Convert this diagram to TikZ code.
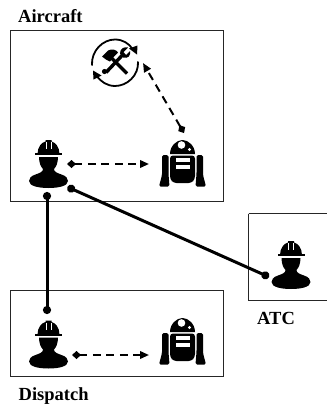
\documentclass[tikz,border=0pt]{standalone}
\usepackage{fontspec}
\setmainfont{Liberation Serif}
\usetikzlibrary{arrows.meta}
\tikzset{
  frame/.style={draw=black!85,line width=0.8pt},
  caption/.style={font=\fontsize{18.5}{20}\selectfont\bfseries,inner sep=0pt,text=black},
  anchorbox/.style={inner sep=0pt,minimum width=2pt,minimum height=2pt},
  solidlink/.style={line width=3pt,{Circle[length=8pt,width=8pt]}-{Circle[length=8pt,width=8pt]},black},
  dashlink/.style={line width=2pt,dash pattern=on 8pt off 5.5pt,{Diamond[length=9pt,width=8pt]}-{Triangle[length=9pt,width=7.5pt]},black},
  worker/.pic={
    % helmet
    \fill[black] (-11,-10) .. controls (-11,-17) and (-7,-21.5) .. (-3,-22.5)
      -- (-3,-24) -- (3,-24) -- (3,-22.5) .. controls (7,-21.5) and (11,-17) .. (11,-10) -- cycle;
    \fill[black] (-13.5,-11) rectangle (13.5,-8.8);
    \draw[white,line width=.6pt] (-2.6,-22) -- (-2.6,-15) (2.6,-22) -- (2.6,-15);
    % face
    \fill[black] (-9.5,-7) -- (9.5,-7) .. controls (9.5,-1) and (7.5,3) .. (5.5,5)
      .. controls (5.5,8) and (9,9) .. (13,10.5) .. controls (18,12) and (19.5,15) .. (19.5,17)
      .. controls (19.5,22) and (10,24) .. (0,24) .. controls (-10,24) and (-19.5,22) .. (-19.5,17)
      .. controls (-19.5,15) and (-18,12) .. (-13,10.5) .. controls (-9,9) and (-5.5,8) .. (-5.5,5)
      .. controls (-7.5,3) and (-9.5,-1) .. (-9.5,-7) -- cycle;
  },
  robot/.pic={
    % dome
    \fill[black] (-12.5,-10) .. controls (-12.5,-18) and (-6,-24) .. (0,-24) .. controls (6,-24) and (12.5,-18) .. (12.5,-10) -- cycle;
    \fill[white] (-1,-19) circle (3.8);
    \fill[white] (7,-14.5) circle (1.7);
    % body
    \fill[black,rounded corners=3pt] (-12.5,-8.5) -- (12.5,-8.5) -- (12.5,15) -- (9,19) -- (-9,19) -- (-12.5,15) -- cycle;
    \fill[white] (-7,-6) rectangle (7,-2.5);
    \fill[white] (-7,1) rectangle (7,5);
    % arms
    \fill[black,rounded corners=1.5pt] (-20.5,-9) -- (-14,-9) -- (-14,10) -- (-13,22.5) -- (-23.5,22.5) -- (-20.5,11) -- cycle;
    \fill[black,rounded corners=1.5pt] (20.5,-9) -- (14,-9) -- (14,10) -- (13,22.5) -- (23.5,22.5) -- (20.5,11) -- cycle;
  },
  tools/.pic={
    % rotating arrows
    \draw[black,line width=1.8pt] (-23,3) .. controls (-24,-12) and (-12,-23) .. (0,-23) .. controls (8,-23) and (14,-19) .. (18,-13);
    \fill[black] (22,-8) -- (14,-14) -- (22.5,-17) -- cycle;
    \draw[black,line width=1.8pt] (23,-1) .. controls (24,13) and (12,23.5) .. (0,23.5) .. controls (-8,23.5) and (-14,19) .. (-18,14);
    \fill[black] (-22,8) -- (-13.5,13) -- (-21.5,17) -- cycle;
    % hammer
    \draw[black,line width=3.4pt] (-4,-5) -- (12,11);
    \fill[black] (-13,-6) -- (-7,-12) .. controls (-3,-14) and (1,-13) .. (3,-10) -- (-1,-6) -- (-5,-1) -- (-9,-3) -- cycle;
    % wrench
    \draw[black,line width=3.4pt] (-9,10) -- (7,-7);
    \fill[black] (-10.5,9) circle (2.6);
    \fill[black] (5,-9) .. controls (5,-14) and (9,-16) .. (13,-15) -- (8.5,-10.5) -- (11,-7.5) -- (15,-11.5) .. controls (16,-7) and (13,-3.5) .. (8,-5) -- cycle;
  }
}
\begin{document}
\begin{tikzpicture}[x=1pt,y=-1pt]
\useasboundingbox (0,0) rectangle (327,405);
\fill[white] (0,0) rectangle (327,405);
% frames
\draw[frame] (10.5,30.5) rectangle (223,201);
\draw[frame] (10.5,290.5) rectangle (223,376.5);
\draw[frame] (248.5,213.5) -- (327.5,213.5) (248.5,213.5) -- (248.5,300) -- (327.5,300);
% captions
\node[caption,anchor=base west] (aircraftlabel) at (18,22) {Aircraft};
\node[caption,anchor=base west] (dispatchlabel) at (18.5,400) {Dispatch};
\node[caption,anchor=base west] (atclabel) at (257,324) {ATC};
% icons
\pic at (48.5,164) {worker};
\pic at (48.5,344.5) {worker};
\pic at (291,265) {worker};
\pic at (182.5,164) {robot};
\pic at (182.5,342) {robot};
\pic at (115,62.5) {tools};
% connector ends
\node[anchorbox] (a) at (47,192) {};
\node[anchorbox] (b) at (47,314) {};
\node[anchorbox] (c) at (67.5,187) {};
\node[anchorbox] (d) at (269,277) {};
\node[anchorbox] (e) at (67,164) {};
\node[anchorbox] (f) at (149,164) {};
\node[anchorbox] (g) at (184,133) {};
\node[anchorbox] (h) at (143,63) {};
\node[anchorbox] (i) at (72,355) {};
\node[anchorbox] (j) at (149,355) {};
% connectors
\draw[solidlink] (a.center) -- (b.center);
\draw[solidlink] (c.center) -- (d.center);
\draw[dashlink] (e.center) -- (f.center);
\draw[dashlink] (g.center) -- (h.center);
\draw[dashlink] (i.center) -- (j.center);
\end{tikzpicture}
\end{document}
